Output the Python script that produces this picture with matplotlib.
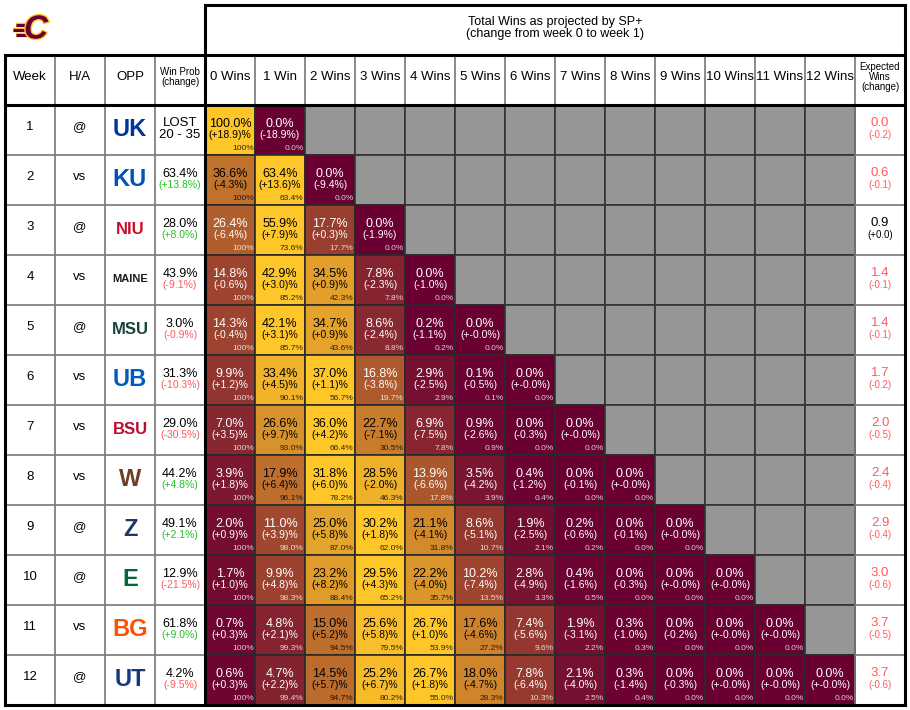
import math
import matplotlib
matplotlib.use("Agg")
import matplotlib.pyplot as plt
import matplotlib.patheffects as pe
from matplotlib.patches import Rectangle
from matplotlib.colors import to_rgb

plt.rcParams['font.family'] = ['Liberation Sans', 'DejaVu Sans']

weeks = list(range(1, 13))
home_away = ['@', 'vs', '@', 'vs', '@', 'vs', 'vs', 'vs', '@', '@', 'vs', '@']
opp_names = ['UK', 'KU', 'NIU', 'MAINE', 'MSU', 'UB', 'BSU', 'W', 'Z', 'E', 'BG', 'UT']
opp_colors = ['#0033A0', '#0051BA', '#C8102E', '#1A1A1A', '#18453B', '#005BBB',
              '#BA0C2F', '#6C4023', '#1B3A6B', '#006633', '#FE5000', '#15397F']

win_prob = [None, 63.4, 28.0, 43.9, 3.0, 31.3, 29.0, 44.2, 49.1, 12.9, 61.8, 4.2]
win_prob_chg = [None, 13.8, 8.0, -9.1, -0.9, -10.3, -30.5, 4.8, 2.1, -21.5, 9.0, -9.5]
week1_result = 'LOST\n20 - 35'

win_labels = ['0 Wins', '1 Win'] + ['%d Wins' % k for k in range(2, 13)]

probs = [
    [100.0, 0.0],
    [36.6, 63.4, 0.0],
    [26.4, 55.9, 17.7, 0.0],
    [14.8, 42.9, 34.5, 7.8, 0.0],
    [14.3, 42.1, 34.7, 8.6, 0.2, 0.0],
    [9.9, 33.4, 37.0, 16.8, 2.9, 0.1, 0.0],
    [7.0, 26.6, 36.0, 22.7, 6.9, 0.9, 0.0, 0.0],
    [3.9, 17.9, 31.8, 28.5, 13.9, 3.5, 0.4, 0.0, 0.0],
    [2.0, 11.0, 25.0, 30.2, 21.1, 8.6, 1.9, 0.2, 0.0, 0.0],
    [1.7, 9.9, 23.2, 29.5, 22.2, 10.2, 2.8, 0.4, 0.0, 0.0, 0.0],
    [0.7, 4.8, 15.0, 25.6, 26.7, 17.6, 7.4, 1.9, 0.3, 0.0, 0.0, 0.0],
    [0.6, 4.7, 14.5, 25.2, 26.7, 18.0, 7.8, 2.1, 0.3, 0.0, 0.0, 0.0, 0.0],
]

# -0.0 shows up as "(+-0.0%)" in the original
changes = [
    [18.9, -18.9],
    [-4.3, 13.6, -9.4],
    [-6.4, 7.9, 0.3, -1.9],
    [-0.6, 3.0, 0.9, -2.3, -1.0],
    [-0.4, 3.1, 0.9, -2.4, -1.1, -0.0],
    [1.2, 4.5, 1.1, -3.8, -2.5, -0.5, -0.0],
    [3.5, 9.7, 4.2, -7.1, -7.5, -2.6, -0.3, -0.0],
    [1.8, 6.4, 6.0, -2.0, -6.6, -4.2, -1.2, -0.1, -0.0],
    [0.9, 3.9, 5.8, 1.8, -4.1, -5.1, -2.5, -0.6, -0.1, -0.0],
    [1.0, 4.8, 8.2, 4.3, -4.0, -7.4, -4.9, -1.6, -0.3, -0.0, -0.0],
    [0.3, 2.1, 5.2, 5.8, 1.0, -4.6, -5.6, -3.1, -1.0, -0.2, -0.0, -0.0],
    [0.3, 2.2, 5.7, 6.7, 1.8, -4.7, -6.4, -4.0, -1.4, -0.3, -0.0, -0.0, -0.0],
]

at_least = [
    [100, 0.0],
    [100, 63.4, 0.0],
    [100, 73.6, 17.7, 0.0],
    [100, 85.2, 42.3, 7.8, 0.0],
    [100, 85.7, 43.6, 8.8, 0.2, 0.0],
    [100, 90.1, 56.7, 19.7, 2.9, 0.1, 0.0],
    [100, 93.0, 66.4, 30.5, 7.8, 0.9, 0.0, 0.0],
    [100, 96.1, 78.2, 46.3, 17.8, 3.9, 0.4, 0.0, 0.0],
    [100, 98.0, 87.0, 62.0, 31.8, 10.7, 2.1, 0.2, 0.0, 0.0],
    [100, 98.3, 88.4, 65.2, 35.7, 13.5, 3.3, 0.5, 0.0, 0.0, 0.0],
    [100, 99.3, 94.5, 79.5, 53.9, 27.2, 9.6, 2.2, 0.3, 0.0, 0.0, 0.0],
    [100, 99.4, 94.7, 80.2, 55.0, 28.3, 10.3, 2.5, 0.4, 0.0, 0.0, 0.0, 0.0],
]

exp_wins = [0.0, 0.6, 0.9, 1.4, 1.4, 1.7, 2.0, 2.4, 2.9, 3.0, 3.7, 3.7]
exp_wins_chg = [-0.2, -0.1, 0.0, -0.1, -0.1, -0.2, -0.5, -0.4, -0.4, -0.6, -0.5, -0.6]

MAROON = '#6A0032'
GOLD = '#FFC629'
GREY = '#969696'
RED = '#FF5A5A'
GREEN = '#22C322'

# layout (pixels)
X0, COLW = 5, 50
Y_TOP, Y_HEAD, Y_BODY, ROWH = 5, 55, 105, 50
N_WIN = 13
X_WIN = X0 + 4 * COLW
X_EXP = X_WIN + N_WIN * COLW
X_END = X_EXP + COLW
Y_END = Y_BODY + 12 * ROWH


def blend(t):
    a = to_rgb(MAROON)
    b = to_rgb(GOLD)
    return tuple(a[i] + (b[i] - a[i]) * t for i in range(3))


def fmt_chg(c):
    if c == 0 and math.copysign(1, c) < 0:
        return '(+-0.0%)'
    if c > 0:
        return '(+%.1f)%%' % c
    return '(%.1f%%)' % c


def fmt_cum(v):
    if v >= 100:
        return '100%'
    return '%.1f%%' % v


fig = plt.figure(figsize=(9.1, 7.1), dpi=100)
ax = fig.add_axes([0, 0, 1, 1])
ax.set_xlim(0, 910)
ax.set_ylim(710, 0)
ax.axis('off')

# logo stand-in
for dy, x1 in ((-5, 16), (0, 13), (5, 16)):
    ax.plot([x1, 30], [30 + dy, 30 + dy], color=MAROON, lw=2.2, solid_capstyle='butt',
            path_effects=[pe.withStroke(linewidth=3.2, foreground=GOLD)])
logo = ax.text(36, 30, 'C', fontsize=24, fontweight='bold', fontstyle='italic',
               color=MAROON, ha='center', va='center')
logo.set_path_effects([pe.withStroke(linewidth=2, foreground=GOLD)])

# title box
ax.text((X_WIN + X_END) / 2, 28, 'Total Wins as projected by SP+\n(change from week 0 to week 1)',
        ha='center', va='center', fontsize=9, linespacing=1.0)

# header row
head_left = ['Week', 'H/A', 'OPP']
for j, h in enumerate(head_left):
    ax.text(X0 + COLW * (j + 0.5), 77, h, ha='center', va='center', fontsize=9.5)
ax.text(X0 + COLW * 3.5, 77, 'Win Prob\n(change)', ha='center', va='center', fontsize=7, linespacing=1.1)
for k, lab in enumerate(win_labels):
    ax.text(X_WIN + COLW * (k + 0.5), 77, lab, ha='center', va='center', fontsize=9.5)
ax.text(X_EXP + COLW / 2, 77, 'Expected\nWins\n(change)', ha='center', va='center', fontsize=7, linespacing=1.0)

for i in range(12):
    top = Y_BODY + i * ROWH
    # left columns
    ax.text(X0 + COLW * 0.5, top + 22, str(weeks[i]), ha='center', va='center', fontsize=9.5)
    ax.text(X0 + COLW * 1.5, top + 22, home_away[i], ha='center', va='center', fontsize=9.5)
    name = opp_names[i]
    fs = 17 if len(name) <= 2 else (12 if len(name) == 3 else 8)
    ax.text(X0 + COLW * 2.5, top + 24, name, ha='center', va='center', fontsize=fs,
            fontweight='bold', color=opp_colors[i])
    if win_prob[i] is None:
        ax.text(X0 + COLW * 3.5, top + 24, week1_result, ha='center', va='center',
                fontsize=9.5, linespacing=1.1)
    else:
        ax.text(X0 + COLW * 3.5, top + 19, '%.1f%%' % win_prob[i], ha='center', va='center', fontsize=9)
        c = win_prob_chg[i]
        ax.text(X0 + COLW * 3.5, top + 30, ('(+%.1f%%)' % c) if c > 0 else ('(%.1f%%)' % c),
                ha='center', va='center', fontsize=7.5, color=GREEN if c > 0 else RED)

    # win distribution cells
    row = probs[i]
    rmax = max(row)
    for k in range(N_WIN):
        x = X_WIN + k * COLW
        if k >= len(row):
            ax.add_patch(Rectangle((x, top), COLW, ROWH, facecolor=GREY, edgecolor='#333333', lw=1.2))
            continue
        t = row[k] / rmax
        ax.add_patch(Rectangle((x, top), COLW, ROWH, facecolor=blend(t), edgecolor='#2a2a2a', lw=1.2))
        tc = 'black' if t >= 0.5 else 'white'
        ax.text(x + COLW / 2, top + 19, '%.1f%%' % row[k], ha='center', va='center', fontsize=9, color=tc)
        ax.text(x + COLW / 2, top + 30, fmt_chg(changes[i][k]), ha='center', va='center', fontsize=7.5, color=tc)
        ax.text(x + COLW - 1.5, top + 43, fmt_cum(at_least[i][k]), ha='right', va='center',
                fontsize=6, color=tc, alpha=0.8)

    # expected wins
    c = exp_wins_chg[i]
    ec = RED if c < 0 else 'black'
    ax.text(X_EXP + COLW / 2, top + 18, '%.1f' % exp_wins[i], ha='center', va='center', fontsize=9.5, color=ec)
    ax.text(X_EXP + COLW / 2, top + 30, ('(%.1f)' % c) if c < 0 else '(+%.1f)' % c,
            ha='center', va='center', fontsize=7, color=ec)

# thin grid in the white parts
for j in range(1, 4):
    ax.plot([X0 + j * COLW] * 2, [Y_HEAD, Y_END], color='#777777', lw=1.2, zorder=3)
for k in range(1, N_WIN + 1):
    ax.plot([X_WIN + k * COLW] * 2, [Y_HEAD, Y_BODY], color='#777777', lw=1.2, zorder=3)
ax.plot([X_EXP, X_EXP], [Y_BODY, Y_END], color='#777777', lw=1.2, zorder=3)
for i in range(1, 12):
    y = Y_BODY + i * ROWH
    ax.plot([X0, X_WIN], [y, y], color='#777777', lw=1.2, zorder=3)
    ax.plot([X_EXP, X_END], [y, y], color='#777777', lw=1.2, zorder=3)

# thick outline
thick = dict(color='black', lw=2.2, zorder=5, solid_capstyle='projecting')
ax.plot([X_WIN, X_END], [Y_TOP, Y_TOP], **thick)
ax.plot([X0, X_END], [Y_HEAD, Y_HEAD], **thick)
ax.plot([X0, X_END], [Y_BODY, Y_BODY], **thick)
ax.plot([X0, X_END], [Y_END, Y_END], **thick)
ax.plot([X0, X0], [Y_HEAD, Y_END], **thick)
ax.plot([X_WIN, X_WIN], [Y_TOP, Y_END], **thick)
ax.plot([X_END, X_END], [Y_TOP, Y_END], **thick)

fig.savefig('out.png', dpi=100)
